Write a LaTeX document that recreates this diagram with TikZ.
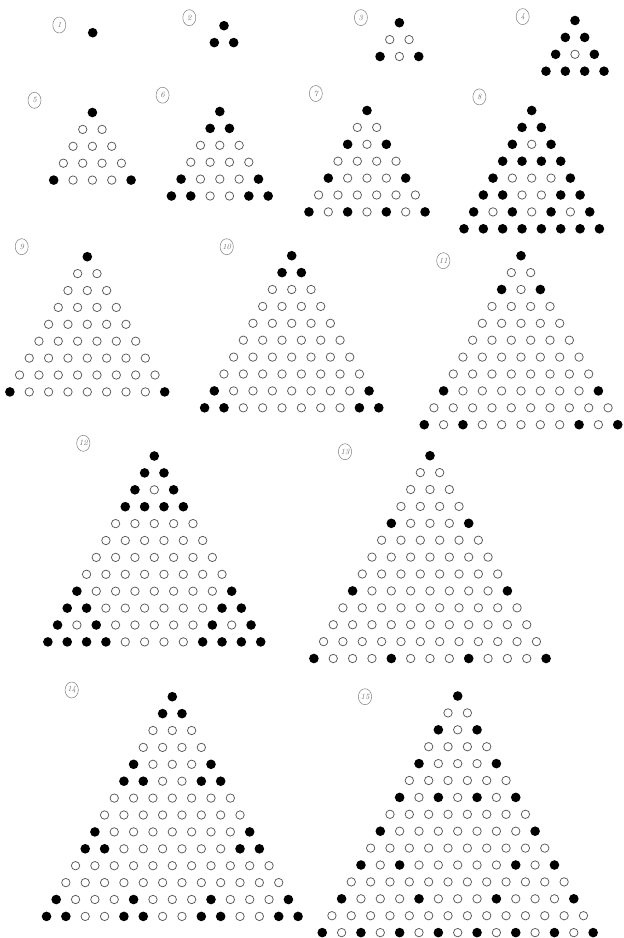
\documentclass[tikz,border=0pt]{standalone}
\usetikzlibrary{shapes.geometric}
\tikzset{
  blkdot/.style={fill=black},
  whtdot/.style={draw=black!65, line width=0.75pt},
  lab/.style={draw=black!50, line width=0.5pt, ellipse, inner sep=0.3pt,
    minimum width=13pt, minimum height=16pt, text=black!55,
    font=\fontsize{8}{8}\selectfont\itshape},
}
\begin{document}
\begin{tikzpicture}[x=1pt,y=-1pt]
\useasboundingbox (0,0) rectangle (624,938);
\fill[white] (0,0) rectangle (624,938);
\foreach \n/\cx/\cy in {1/92.7/32.7, 2/224/25.7, 3/399.4/22.7, 4/575/20.5,
  5/92.4/112.5, 6/219.8/111.5, 7/367/110.5, 8/531.7/110.5,
  9/87.3/256.7, 10/291.7/255.7, 11/521/255.7,
  12/154.3/456, 13/430/455.7, 14/172.3/696.7, 15/457.7/696}{
  \pgfmathtruncatemacro\N{\n-1}
  \foreach \r in {0,...,\N}{
    \foreach \k in {0,...,\r}{
      \pgfmathtruncatemacro\viol{(mod(\k,2)>mod(\r,2))+(mod(floor(\k/2),2)>mod(floor(\r/2),2))+(mod(floor(\k/4),2)>mod(floor(\r/4),2))+(mod(floor(\k/8),2)>mod(floor(\r/8),2))+(mod(\r,2)>mod(\N,2))+(mod(floor(\r/2),2)>mod(floor(\N/2),2))+(mod(floor(\r/4),2)>mod(floor(\N/4),2))+(mod(floor(\r/8),2)>mod(floor(\N/8),2))}
      \pgfmathsetmacro\px{\cx+(\k-\r/2)*19.35}
      \pgfmathsetmacro\py{\cy+\r*16.9}
      \ifnum\viol=0 \fill[blkdot] (\px,\py) circle[radius=4.8pt];
      \else \draw[whtdot] (\px,\py) circle[radius=4.2pt]; \fi
    }
  }
}
\foreach \i/\x/\y in {1/59.3/25, 2/189.3/17.7, 3/360.9/17.6, 4/522.7/16.6,
  5/34.5/100.3, 6/162.6/95.2, 7/315.8/93.5, 8/479.4/96.9,
  9/21.7/246.7, 10/226.7/246.7, 11/443.3/260.7,
  12/83.3/443.3, 13/345/451.7, 14/71.7/690, 15/365/696.7}{
  \node[lab] (L\i) at (\x,\y) {\i};
}
\end{tikzpicture}
\end{document}
